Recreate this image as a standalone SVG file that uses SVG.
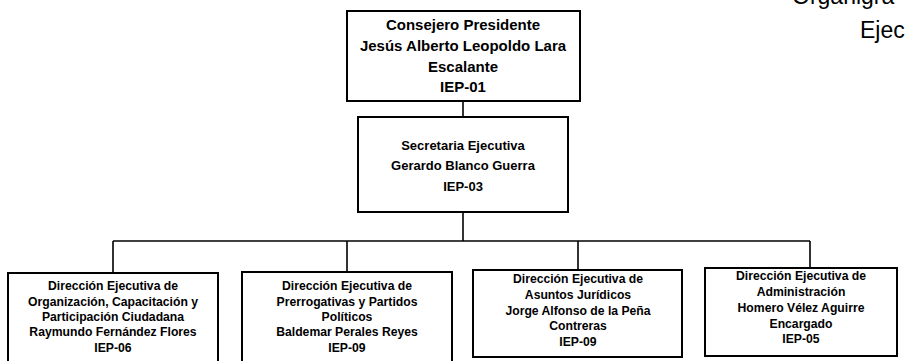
<svg xmlns="http://www.w3.org/2000/svg" width="907" height="361" viewBox="0 0 907 361">
<style>
.box{fill:#fff;stroke:#000;stroke-width:2}
.conn{fill:none;stroke:#000;stroke-width:1.6}
text{font-family:"Liberation Sans",Arial,sans-serif;font-weight:bold;fill:#000;text-anchor:middle}
.t1{font-size:15px}
.t2{font-size:13px}
.t3{font-size:12.2px}
.title{font-size:23px;font-weight:normal;text-anchor:start}
</style>
<rect width="907" height="361" fill="#fff"/>
<g id="title">
<text class="title" x="792" y="4">Organigra</text>
<text class="title" x="860" y="38">Ejec</text>
</g>
<g id="connectors">
<path class="conn" d="M463 101V117"/>
<path class="conn" d="M463 212V241"/>
<path class="conn" d="M113 241H810"/>
<path class="conn" d="M113 241V273M347 241V272M578 241V270M810 241V268"/>
</g>
<g id="n1">
<rect class="box" x="347" y="11" width="233" height="90"/>
<text class="t1" x="463" y="30">Consejero Presidente</text>
<text class="t1" x="463" y="51">Jesús Alberto Leopoldo Lara</text>
<text class="t1" x="463" y="72">Escalante</text>
<text class="t1" x="463" y="92">IEP-01</text>
</g>
<g id="n2">
<rect class="box" x="358" y="117" width="210" height="95"/>
<text class="t2" x="463" y="150">Secretaria Ejecutiva</text>
<text class="t2" x="463" y="170">Gerardo Blanco Guerra</text>
<text class="t2" x="463" y="191">IEP-03</text>
</g>
<g id="n3">
<rect class="box" x="8" y="273" width="210" height="92"/>
<text class="t3" x="113" y="290">Dirección Ejecutiva de</text>
<text class="t3" x="113" y="306">Organización, Capacitación y</text>
<text class="t3" x="113" y="321">Participación Ciudadana</text>
<text class="t3" x="113" y="336">Raymundo Fernández Flores</text>
<text class="t3" x="113" y="352">IEP-06</text>
</g>
<g id="n4">
<rect class="box" x="242" y="272" width="210" height="93"/>
<text class="t3" x="347" y="290">Dirección Ejecutiva de</text>
<text class="t3" x="347" y="306">Prerrogativas y Partidos</text>
<text class="t3" x="347" y="321">Políticos</text>
<text class="t3" x="347" y="336">Baldemar Perales Reyes</text>
<text class="t3" x="347" y="352">IEP-09</text>
</g>
<g id="n5">
<rect class="box" x="473" y="270" width="209" height="87"/>
<text class="t3" x="578" y="283">Dirección Ejecutiva de</text>
<text class="t3" x="578" y="299">Asuntos Jurídicos</text>
<text class="t3" x="578" y="315">Jorge Alfonso de la Peña</text>
<text class="t3" x="578" y="330">Contreras</text>
<text class="t3" x="578" y="346">IEP-09</text>
</g>
<g id="n6">
<rect class="box" x="705" y="268" width="192" height="88"/>
<text class="t3" x="801" y="280">Dirección Ejecutiva de</text>
<text class="t3" x="801" y="296">Administración</text>
<text class="t3" x="801" y="312">Homero Vélez Aguirre</text>
<text class="t3" x="801" y="328">Encargado</text>
<text class="t3" x="801" y="343">IEP-05</text>
</g>
</svg>
